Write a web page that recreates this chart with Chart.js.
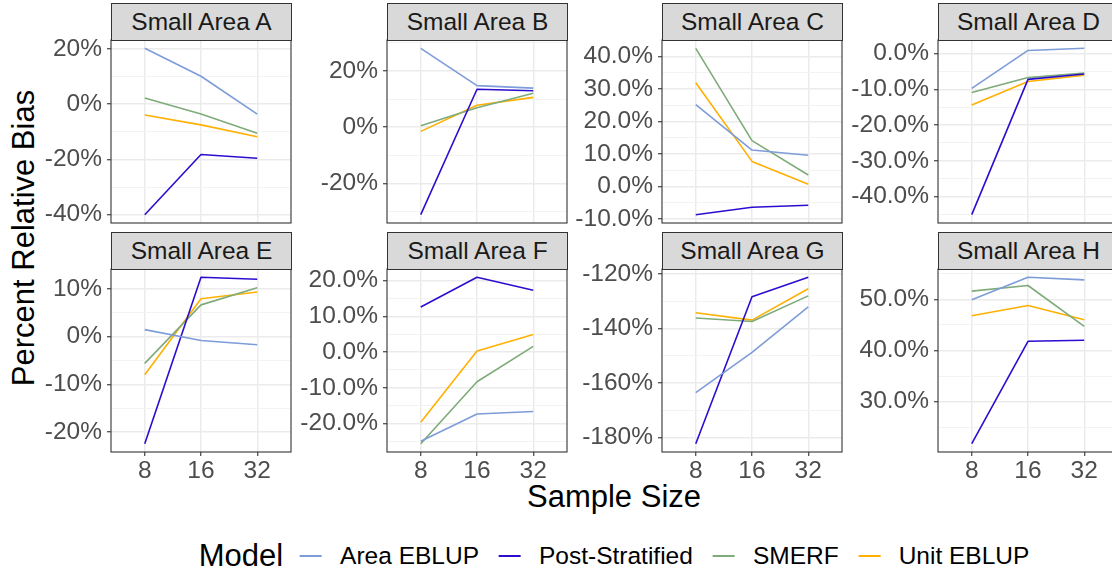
<!DOCTYPE html>
<html>
<head>
<meta charset="utf-8">
<title>Percent Relative Bias by Sample Size</title>
<script src="https://cdn.jsdelivr.net/npm/chart.js@4.4.1/dist/chart.umd.min.js"></script>
<style>
  html, body { margin: 0; padding: 0; background: #fff; overflow: hidden; width: 1112px; height: 573px; }
  body { position: relative; font-family: "Liberation Sans", Arial, Helvetica, sans-serif; }
  canvas.panel { position: absolute; }
  .strip {
    position: absolute; box-sizing: border-box; background: #d9d9d9; border: 1px solid #333;
    display: flex; align-items: center; justify-content: center;
    font-size: 24.5px; color: #1a1a1a; white-space: nowrap;
  }
  .title { position: absolute; font-size: 31px; color: #000; white-space: nowrap; }
  #ytitle { left: 24px; top: 238px; transform: translate(-50%, -50%) rotate(-90deg); }
  #xtitle { left: 614px; top: 497px; transform: translate(-50%, -50%); }
  #legend {
    position: absolute; left: 614px; top: 556px; transform: translate(-50%, -50%);
    display: flex; align-items: center; white-space: nowrap;
  }
  #legend .ltitle { font-size: 31px; color: #000; margin-right: 17px; }
  #legend .key { width: 22px; height: 1.6px; margin-right: 18px; }
  #legend .label { font-size: 24.5px; color: #000; margin-right: 20px; }
  #legend .label:last-child { margin-right: 0; }
</style>
</head>
<body>
<div id="ytitle" class="title">Percent Relative Bias</div>
<div id="xtitle" class="title">Sample Size</div>
<div id="legend"></div>

<script>
// Categories
const sampleSizes = ['8', '16', '32'];
const areaNames = ['Small Area A', 'Small Area B', 'Small Area C', 'Small Area D',
                   'Small Area E', 'Small Area F', 'Small Area G', 'Small Area H'];
const modelNames = ['Area EBLUP', 'Post-Stratified', 'SMERF', 'Unit EBLUP'];
const modelColors = ['#7d9cd8', '#2a0ed0', '#7eab79', '#ffb000'];

// Percent relative bias: one row per small area, one value per sample size
const areaEblup = [
  [20.2, 10.1, -3.6],
  [28.1, 14.8, 13.9],
  [25.2, 11.2, 9.6],
  [-9.7, 0.9, 1.5],
  [1.5, -0.8, -1.7],
  [-24.9, -17.3, -16.6],
  [-163.6, -148.8, -132.1],
  [49.9, 54.3, 53.8]
];
const postStratified = [
  [-40.0, -18.2, -19.6],
  [-31.2, 13.5, 13.0],
  [-8.7, -6.4, -5.8],
  [-45.1, -7.2, -5.7],
  [-22.5, 12.5, 12.1],
  [12.6, 20.9, 17.3],
  [-182.3, -128.4, -121.3],
  [21.8, 41.8, 42.0]
];
const smerf = [
  [2.2, -3.6, -10.5],
  [0.5, 6.9, 12.1],
  [42.5, 14.1, 3.5],
  [-10.9, -6.7, -5.4],
  [-5.6, 6.7, 10.3],
  [-25.6, -8.3, 1.6],
  [-136.2, -137.5, -128.1],
  [51.6, 52.7, 44.7]
];
const unitEblup = [
  [-3.9, -7.5, -11.8],
  [-1.5, 7.8, 10.6],
  [31.9, 7.7, 0.7],
  [-14.4, -7.8, -6.0],
  [-8.0, 8.0, 9.4],
  [-19.6, 0.3, 4.9],
  [-134.3, -137.0, -125.5],
  [46.8, 48.8, 46.0]
];

// Y tick spacing and label decimals per panel
const yTickStep = [20, 20, 10, 10, 10, 10, 20, 10];
const yTickDecimals = [0, 0, 1, 1, 0, 1, 0, 1];

const modelSeries = [areaEblup, postStratified, smerf, unitEblup];

// Facet grid geometry
const PANEL_LEFT = [111, 387, 662, 938];
const PANEL_TOP = [40, 269];
const PANEL_W = 180, PANEL_H = 183, STRIP_H = 37;
const AXIS_W = 100, PAD = 20, XAXIS_H = 40;
const FONT = '"Liberation Sans", Arial, Helvetica, sans-serif';

// Panel border drawn over the lines
const panelBorder = {
  id: 'panelBorder',
  afterDatasetsDraw(chart) {
    const { left, top, right, bottom } = chart.chartArea;
    const c = chart.ctx;
    c.save();
    c.strokeStyle = '#333333';
    c.lineWidth = 1.1;
    c.strokeRect(left, top, right - left, bottom - top);
    c.restore();
  }
};

function makePanel(i) {
  const col = i % 4, row = Math.floor(i / 4);
  const step = yTickStep[i], dec = yTickDecimals[i];
  const isMajor = v => Math.abs(v / step - Math.round(v / step)) < 1e-6;

  // strip label
  const strip = document.createElement('div');
  strip.className = 'strip';
  strip.textContent = areaNames[i];
  strip.style.left = PANEL_LEFT[col] + 'px';
  strip.style.top = (PANEL_TOP[row] - STRIP_H) + 'px';
  strip.style.width = (PANEL_W + 1) + 'px';
  strip.style.height = (STRIP_H + 1) + 'px';

  const canvas = document.createElement('canvas');
  canvas.className = 'panel';
  const w = AXIS_W + PANEL_W + 1;
  const h = PAD + PANEL_H + (row === 0 ? PAD : XAXIS_H);
  canvas.width = w; canvas.height = h;
  canvas.style.left = (PANEL_LEFT[col] - AXIS_W) + 'px';
  canvas.style.top = (PANEL_TOP[row] - PAD) + 'px';
  canvas.style.width = w + 'px'; canvas.style.height = h + 'px';
  document.body.appendChild(canvas);
  document.body.appendChild(strip);

  // y range: data range expanded by 5% on both sides
  const vals = modelSeries.flatMap(s => s[i]);
  const lo = Math.min(...vals), hi = Math.max(...vals);
  const span = hi - lo;
  const yMin = lo - 0.05 * span, yMax = hi + 0.05 * span;

  const datasets = modelSeries.map((series, k) => ({
    label: modelNames[k],
    data: series[i].map((v, j) => ({ x: j + 1, y: v })),
    borderColor: modelColors[k],
    backgroundColor: modelColors[k],
    borderWidth: 1.6,
    borderJoinStyle: 'round',
    pointRadius: 0,
    pointHoverRadius: 0,
    tension: 0,
    fill: false
  }));

  new Chart(canvas, {
    type: 'line',
    data: { datasets },
    options: {
      responsive: false,
      animation: false,
      devicePixelRatio: 1,
      layout: { padding: { top: PAD, bottom: row === 0 ? PAD : 0, left: 0, right: 1 } },
      plugins: { legend: { display: false }, tooltip: { enabled: false } },
      scales: {
        x: {
          type: 'linear',
          min: 0.4, max: 3.6,
          afterBuildTicks: s => { s.ticks = sampleSizes.map((_, j) => ({ value: j + 1 })); },
          afterFit: s => { s.height = row === 0 ? 0 : XAXIS_H; },
          border: { display: false },
          grid: {
            color: '#ebebeb', lineWidth: 1.5,
            drawTicks: row === 1, tickLength: 4, tickColor: '#333333', tickWidth: 1.1
          },
          ticks: {
            display: row === 1, autoSkip: false, maxRotation: 0, padding: 1,
            color: '#4d4d4d', font: { family: FONT, size: 24.5 },
            callback: v => sampleSizes[Math.round(v) - 1] ?? ''
          }
        },
        y: {
          type: 'linear',
          min: yMin, max: yMax,
          afterBuildTicks: s => {
            const half = step / 2, ticks = [];
            const a = Math.ceil(s.min / half - 1e-9), b = Math.floor(s.max / half + 1e-9);
            for (let k = a; k <= b; k++) ticks.push({ value: k * half });
            s.ticks = ticks;
          },
          afterFit: s => { s.width = AXIS_W; },
          border: { display: false },
          grid: {
            color: ctx => (ctx.tick && isMajor(ctx.tick.value)) ? '#ebebeb' : '#f3f3f3',
            lineWidth: ctx => (ctx.tick && isMajor(ctx.tick.value)) ? 1.5 : 1,
            tickLength: 4,
            tickColor: ctx => (ctx.tick && isMajor(ctx.tick.value)) ? '#333333' : 'rgba(0,0,0,0)',
            tickWidth: 1.1
          },
          ticks: {
            autoSkip: false, padding: 5,
            color: '#4d4d4d', font: { family: FONT, size: 24.5 },
            callback: v => isMajor(v) ? (Math.abs(v) < 1e-9 ? 0 : v).toFixed(dec) + '%' : ''
          }
        }
      }
    },
    plugins: [panelBorder]
  });
}

areaNames.forEach((_, i) => makePanel(i));

// Legend
const legend = document.getElementById('legend');
const lt = document.createElement('span');
lt.className = 'ltitle'; lt.textContent = 'Model';
legend.appendChild(lt);
modelNames.forEach((name, k) => {
  const key = document.createElement('span');
  key.className = 'key'; key.style.background = modelColors[k];
  const lab = document.createElement('span');
  lab.className = 'label'; lab.textContent = name;
  legend.appendChild(key); legend.appendChild(lab);
});
</script>
</body>
</html>
